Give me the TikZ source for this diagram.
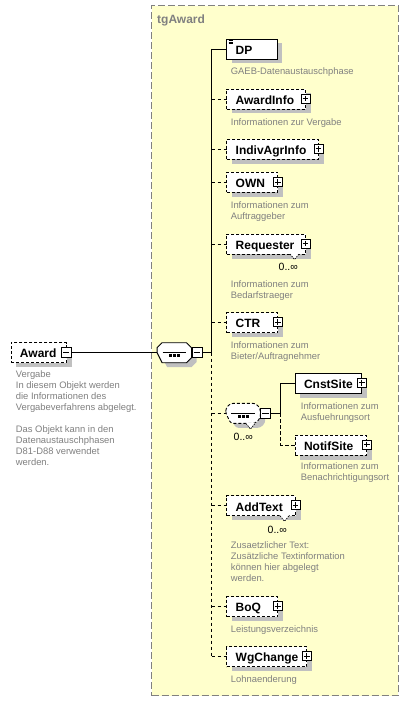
\documentclass[tikz,border=0pt]{standalone}
\usepackage{fontspec}
\setmainfont{Liberation Sans}
\usetikzlibrary{shadows}
\definecolor{grpfill}{RGB}{255,255,204}
\definecolor{grpline}{RGB}{128,128,128}
\definecolor{desccol}{RGB}{128,128,128}
\definecolor{shadecol}{RGB}{192,192,192}
\begin{document}
\begin{tikzpicture}[x=1pt,y=-1pt,
  elem/.style={draw=black, fill=white, line width=0.9pt, minimum height=20pt, inner xsep=0pt, inner ysep=0pt, outer sep=0pt,
    text width=#1, align=left, anchor=west, text height=10.5pt, text depth=0pt,
    font=\fontsize{12}{14}\selectfont\bfseries, execute at begin node={\hspace*{9pt}},
    drop shadow={shadow xshift=5pt, shadow yshift=-4.5pt, fill=shadecol, opacity=1}},
  optelem/.style={elem=#1, dash pattern=on 3pt off 2pt},
  plusbox/.style={draw=black, fill=white, line width=0.7pt, minimum size=9pt, inner sep=0pt, outer sep=0pt,
    path picture={\draw[line width=0.7pt] ([yshift=-1.6pt]path picture bounding box.north) -- ([yshift=1.6pt]path picture bounding box.south);
      \draw[line width=0.7pt] ([xshift=1.6pt]path picture bounding box.west) -- ([xshift=-1.6pt]path picture bounding box.east);}},
  minusbox/.style={draw=black, fill=white, line width=0.7pt, minimum size=10pt, inner sep=0pt, outer sep=0pt,
    path picture={\draw[line width=0.7pt] ([xshift=1.8pt]path picture bounding box.west) -- ([xshift=-1.8pt]path picture bounding box.east);}},
  desc/.style={anchor=north west, inner sep=0pt, align=left, text=desccol, font=\fontsize{9.4}{11}\selectfont},
  mult/.style={inner sep=0pt, font=\fontsize{10.5}{12}\selectfont, text=black},
  conn/.style={draw=black, line width=0.9pt},
  optconn/.style={conn, dash pattern=on 3.5pt off 2.5pt}]
\useasboundingbox (0,0) rectangle (408,703);
\fill[white] (0,0) rectangle (408,703);

% group box
\node[draw=grpline, fill=grpfill, line width=1.1pt, dash pattern=on 7pt off 3pt, minimum width=246.7pt, minimum height=690pt, inner sep=0pt, anchor=north west] (grp) at (151,5) {};
\node[anchor=west, inner sep=0pt, font=\fontsize{12}{14}\selectfont\bfseries, text=grpline] (grplbl) at (157,20) {tgAward};

% coordinates of junctions
\coordinate (sj) at (211.7,352.7);
\coordinate (cj) at (280.7,413.3);

% Award
\node[optelem=55.7pt] (award) at (11,352.7) {Award};
\node[minusbox] (awardm) at (66,352.7) {};
\node[desc] (awardd) at (15.7,370.3) {Vergabe\\In diesem Objekt werden\\die Informationen des\\Vergabeverfahrens abgelegt.\\[11pt]Das Objekt kann in den\\Datenaustauschphasen\\D81-D88 verwendet\\werden.};

% main sequence compositor
\node[minimum width=34.4pt, minimum height=20pt, inner sep=0pt] (seq) at (174.5,352.7) {};
\fill[shadecol] ([xshift=5pt,yshift=-4.5pt]seq.west) -- ++(0,-5) -- ++(5,-5) -- ++(24.4,0) -- ++(5,5) -- ++(0,10) -- ++(-5,5) -- ++(-24.4,0) -- cycle;
\filldraw[fill=white, draw=black, line width=0.9pt] (seq.west) -- ++(0,-5) -- ++(5,-5) -- ++(24.4,0) -- ++(5,5) -- ++(0,10) -- ++(-5,5) -- ++(-24.4,0) -- cycle;
\draw[line width=1pt] ([xshift=5.5pt]seq.west) -- ([xshift=-5.5pt]seq.east);
\fill[black] ([xshift=-5.5pt,yshift=-1.4pt]seq.center) rectangle ++(2.8,2.8);
\fill[black] ([xshift=-1.4pt,yshift=-1.4pt]seq.center) rectangle ++(2.8,2.8);
\fill[black] ([xshift=2.7pt,yshift=-1.4pt]seq.center) rectangle ++(2.8,2.8);
\node[minusbox, anchor=west] (seqm) at (seq.east) {};

\draw[conn] (awardm.east) -- (seq.west);
\draw[conn] (seqm.east) -- (sj);

% children
\node[elem=50.3pt] (dp) at (226.7,49) {DP};
\draw[line width=0.45pt] ([xshift=1.8pt,yshift=-1.5pt]dp.north west) -- ++(4.5,0);
\draw[line width=0.45pt] ([xshift=1.8pt,yshift=-2.9pt]dp.north west) -- ++(4.5,0);
\draw[line width=0.45pt] ([xshift=1.8pt,yshift=-4.3pt]dp.north west) -- ++(4.5,0);
\node[desc] (dpd) at (230.7,67) {GAEB-Datenaustauschphase};

\node[optelem=78.8pt] (awi) at (226.7,99) {AwardInfo};
\node[plusbox] (awip) at ([yshift=0.5pt]awi.east) {};
\node[desc] (awid) at (230.7,118) {Informationen zur Vergabe};

\node[optelem=91.8pt] (ind) at (226.7,149.3) {IndivAgrInfo};
\node[plusbox] (indp) at ([yshift=0.5pt]ind.east) {};

\node[optelem=51pt] (own) at (226.7,182.5) {OWN};
\node[plusbox] (ownp) at ([yshift=0.5pt]own.east) {};
\node[desc] (ownd) at (230.7,201) {Informationen zum\\Auftraggeber};

\node[optelem=78.8pt] (req) at (226.7,244) {Requester};
\node[plusbox] (reqp) at ([yshift=0.5pt]req.east) {};
\fill[white] ([xshift=-15.8pt,yshift=0.9pt]req.south east) -- ([xshift=-6.2pt,yshift=0.9pt]req.south east) -- ([xshift=-6.2pt]req.south east) -- ([xshift=-11pt,yshift=-5.5pt]req.south east) -- ([xshift=-15.8pt]req.south east) -- cycle;
\draw[line width=0.7pt, dash pattern=on 1.5pt off 1pt] ([xshift=-15.5pt]req.south east) -- ([xshift=-11pt,yshift=-5.5pt]req.south east) -- ([xshift=-6.5pt]req.south east);
\node[mult] (reqm) at (288.3,266.7) {0..∞};
\node[desc] (reqd) at (230.7,280) {Informationen zum\\Bedarfstraeger};

\node[optelem=51pt] (ctr) at (226.7,322.7) {CTR};
\node[plusbox] (ctrp) at ([yshift=0.5pt]ctr.east) {};
\node[desc] (ctrd) at (230.7,341) {Informationen zum\\Bieter/Auftragnehmer};

% inner sequence compositor
\node[minimum width=34.4pt, minimum height=20pt, inner sep=0pt] (seq2) at (243.2,413.3) {};
\fill[shadecol, rounded corners=2.5pt] ([xshift=5pt,yshift=-4.5pt]seq2.west) -- ++(0,-5) -- ++(5,-5) -- ++(24.4,0) -- ++(5,5) -- ++(0,10) -- ++(-5,5) -- ++(-24.4,0) -- cycle;
\filldraw[fill=white, draw=black, line width=0.9pt, dash pattern=on 3pt off 2pt, rounded corners=2.5pt] (seq2.west) -- ++(0,-5) -- ++(5,-5) -- ++(24.4,0) -- ++(5,5) -- ++(0,10) -- ++(-5,5) -- ++(-24.4,0) -- cycle;
\draw[line width=1pt] ([xshift=5.5pt]seq2.west) -- ([xshift=-5.5pt]seq2.east);
\fill[black] ([xshift=-5.5pt,yshift=-1.4pt]seq2.center) rectangle ++(2.8,2.8);
\fill[black] ([xshift=-1.4pt,yshift=-1.4pt]seq2.center) rectangle ++(2.8,2.8);
\fill[black] ([xshift=2.7pt,yshift=-1.4pt]seq2.center) rectangle ++(2.8,2.8);
\fill[white] ([xshift=2.6pt,yshift=0.9pt]seq2.south) -- ([xshift=12pt,yshift=0.9pt]seq2.south) -- ([xshift=12pt]seq2.south) -- ([xshift=7.3pt,yshift=-5.5pt]seq2.south) -- ([xshift=2.6pt]seq2.south) -- cycle;
\draw[line width=0.7pt, dash pattern=on 1.5pt off 1pt] ([xshift=2.8pt]seq2.south) -- ([xshift=7.3pt,yshift=-5.5pt]seq2.south) -- ([xshift=11.8pt]seq2.south);
\node[minusbox, anchor=west] (seq2m) at (seq2.east) {};
\node[mult] (seq2mu) at (243.3,437.3) {0..∞};

\node[elem=66.7pt] (cnst) at (295,383.3) {CnstSite};
\node[plusbox] (cnstp) at ([yshift=0.5pt]cnst.east) {};
\node[desc] (cnstd) at (300.7,402) {Informationen zum\\Ausfuehrungsort};

\node[optelem=71.7pt] (notif) at (295,445) {NotifSite};
\node[plusbox] (notifp) at ([yshift=0.5pt]notif.east) {};
\node[desc] (notifd) at (300.7,462.7) {Informationen zum\\Benachrichtigungsort};

\node[optelem=68.8pt] (add) at (226.7,505.8) {AddText};
\node[plusbox] (addp) at ([yshift=0.5pt]add.east) {};
\fill[white] ([xshift=-15.8pt,yshift=0.9pt]add.south east) -- ([xshift=-6.2pt,yshift=0.9pt]add.south east) -- ([xshift=-6.2pt]add.south east) -- ([xshift=-11pt,yshift=-5.5pt]add.south east) -- ([xshift=-15.8pt]add.south east) -- cycle;
\draw[line width=0.7pt, dash pattern=on 1.5pt off 1pt] ([xshift=-15.5pt]add.south east) -- ([xshift=-11pt,yshift=-5.5pt]add.south east) -- ([xshift=-6.5pt]add.south east);
\node[mult] (addm) at (277.3,530) {0..∞};
\node[desc] (addd) at (230.7,541.7) {Zusaetzlicher Text:\\Zusätzliche Textinformation\\können hier abgelegt\\werden.};

\node[optelem=51pt] (boq) at (226.7,606.7) {BoQ};
\node[plusbox] (boqp) at ([yshift=0.5pt]boq.east) {};
\node[desc] (boqd) at (230.7,625) {Leistungsverzeichnis};

\node[optelem=80pt] (wg) at (226.7,656.7) {WgChange};
\node[plusbox] (wgp) at ([yshift=0.5pt]wg.east) {};
\node[desc] (wgd) at (230.7,675.3) {Lohnaenderung};

% connectors
\draw[conn] (sj |- dp.west) -- (sj);
\draw[optconn] (sj) -- (sj |- wg.west);
\draw[conn] (sj |- dp.west) -- (dp.west);
\draw[optconn] (sj |- awi.west) -- (awi.west);
\draw[optconn] (sj |- ind.west) -- (ind.west);
\draw[optconn] (sj |- own.west) -- (own.west);
\draw[optconn] (sj |- req.west) -- (req.west);
\draw[optconn] (sj |- ctr.west) -- (ctr.west);
\draw[optconn] (sj |- seq2.west) -- (seq2.west);
\draw[optconn] (sj |- add.west) -- (add.west);
\draw[optconn] (sj |- boq.west) -- (boq.west);
\draw[optconn] (sj |- wg.west) -- (wg.west);

\draw[conn] (seq2m.east) -- (cj);
\draw[conn] (cj) -- (cj |- cnst.west) -- (cnst.west);
\draw[optconn] (cj) -- (cj |- notif.west) -- (notif.west);
\end{tikzpicture}
\end{document}
